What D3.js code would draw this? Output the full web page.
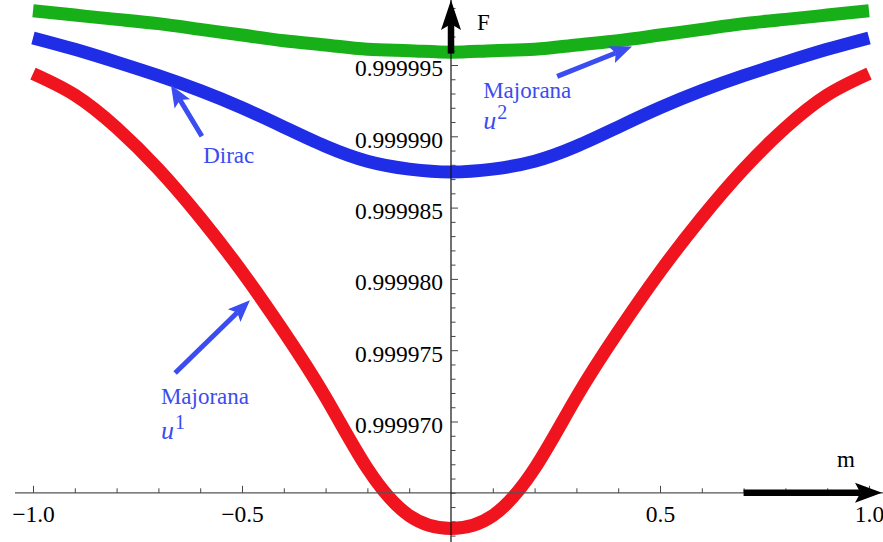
<!DOCTYPE html>
<html>
<head>
<meta charset="utf-8">
<script src="https://cdn.jsdelivr.net/npm/d3@7"></script>
<style>
  body { margin: 0; background: #fff; }
  svg { display: block; }
</style>
</head>
<body>
<div id="chart"></div>
<script>
// m values along the horizontal axis
const mValues = [-1.0, -0.9, -0.8, -0.7, -0.6, -0.5, -0.4, -0.3, -0.2, -0.1, 0.0,
                 0.1, 0.2, 0.3, 0.4, 0.5, 0.6, 0.7, 0.8, 0.9, 1.0];

// fidelity F
const majoranaU1 = [0.9999944, 0.9999929, 0.9999906, 0.9999877, 0.9999843, 0.9999805, 0.9999763, 0.9999717, 0.9999667, 0.9999634, 0.9999625,
                    0.9999634, 0.9999667, 0.9999717, 0.9999763, 0.9999805, 0.9999843, 0.9999877, 0.9999906, 0.9999929, 0.9999944];
const dirac      = [0.9999969, 0.9999961, 0.9999952, 0.99999425, 0.9999932, 0.9999920, 0.99999065, 0.9999893, 0.99998825, 0.9999877, 0.9999875,
                    0.9999877, 0.99998825, 0.9999893, 0.99999065, 0.9999920, 0.9999932, 0.99999425, 0.9999952, 0.9999961, 0.9999969];
const majoranaU2 = [0.9999988, 0.9999985, 0.9999982, 0.9999979, 0.9999975, 0.9999971, 0.9999967, 0.9999964, 0.9999961, 0.9999960, 0.9999959,
                    0.9999960, 0.9999961, 0.9999964, 0.9999967, 0.9999971, 0.9999975, 0.9999979, 0.9999982, 0.9999985, 0.9999988];

const xTickValues = [-1.0, -0.5, 0.5, 1.0];
const xTickLabels = ["\u22121.0", "\u22120.5", "0.5", "1.0"];
const xMinorTicks = [-0.9, -0.8, -0.7, -0.6, -0.4, -0.3, -0.2, -0.1, 0.1, 0.2, 0.3, 0.4, 0.6, 0.7, 0.8, 0.9];
const yTickValues = [0.999970, 0.999975, 0.999980, 0.999985, 0.999990, 0.999995];
const yTickLabels = ["0.999970", "0.999975", "0.999980", "0.999985", "0.999990", "0.999995"];

const width = 883, height = 542;
const axisM = 0, axisF = 0.999965;   // where the axes cross
const serif = '"Liberation Serif"';

let x = d3.scaleLinear().domain([-1, 1]).range([33, 869]);
let y = d3.scaleLinear().domain([0.999970, 0.999995]).range([421.5, 65]);

let svg = d3.select('#chart')
            .append('svg')
            .attr('width', width)
            .attr('height', height);

//curves
let series = [
    {name: 'u1', values: majoranaU1, color: '#f0141e'},
    {name: 'dirac', values: dirac, color: '#1f2ee6'},
    {name: 'u2', values: majoranaU2, color: '#18b018'}
];

let line = d3.line()
             .x((d) => x(d[0]))
             .y((d) => y(d[1]))
             .curve(d3.curveNatural);

svg.selectAll('path.curve')
   .data(series)
   .enter()
   .append('path')
   .attr('class', 'curve')
   .attr('fill', 'none')
   .attr('stroke', (d) => d.color)
   .attr('stroke-width', 13)
   .attr('d', (d) => line(mValues.map((m, i) => [m, d.values[i]])));

//axis lines
svg.append('line')
   .attr('x1', 15).attr('x2', width)
   .attr('y1', y(axisF)).attr('y2', y(axisF))
   .attr('stroke', '#555').attr('stroke-width', 1.2);
svg.append('line')
   .attr('x1', x(axisM)).attr('x2', x(axisM))
   .attr('y1', 0).attr('y2', height)
   .attr('stroke', '#111').attr('stroke-width', 1.2);

//x axis ticks
let xAxis = d3.axisBottom(x)
              .tickValues(xTickValues)
              .tickFormat((d, i) => xTickLabels[i])
              .tickSizeInner(-7)
              .tickSizeOuter(0)
              .tickPadding(13);
let gx = svg.append('g')
            .attr('transform', 'translate(0,' + y(axisF) + ')')
            .call(xAxis);
gx.select('.domain').remove();
gx.selectAll('line').attr('stroke', '#444');
gx.selectAll('text').attr('font-size', '23.5px').attr('fill', '#000');

let gxm = svg.append('g')
             .attr('transform', 'translate(0,' + y(axisF) + ')')
             .call(d3.axisBottom(x).tickValues(xMinorTicks).tickFormat('').tickSizeInner(-4.5).tickSizeOuter(0));
gxm.select('.domain').remove();
gxm.selectAll('line').attr('stroke', '#444');

//y axis ticks
let yAxis = d3.axisLeft(y)
              .tickValues(yTickValues)
              .tickFormat((d, i) => yTickLabels[i])
              .tickSizeInner(-7)
              .tickSizeOuter(0)
              .tickPadding(8);
let gy = svg.append('g')
            .attr('transform', 'translate(' + x(axisM) + ',0)')
            .call(yAxis);
gy.select('.domain').remove();
gy.selectAll('line').attr('stroke', '#444');
gy.selectAll('text').attr('font-size', '23.5px').attr('fill', '#000').attr('dy', '0.46em');

let yMinor = d3.range(62, 100).map((k) => 0.9999 + k * 1e-6)
               .filter((v) => !yTickValues.some((t) => Math.abs(t - v) < 1e-9));
let gym = svg.append('g')
             .attr('transform', 'translate(' + x(axisM) + ',0)')
             .call(d3.axisLeft(y).tickValues(yMinor).tickFormat('').tickSizeInner(-4.5).tickSizeOuter(0));
gym.select('.domain').remove();
gym.selectAll('line').attr('stroke', '#444');

//thick axis arrows
function arrow(g, x1, y1, x2, y2, w, len, half, color) {
    let dx = x2 - x1, dy = y2 - y1, L = Math.sqrt(dx * dx + dy * dy);
    let ux = dx / L, uy = dy / L, px = -uy, py = ux;
    let bx = x2 - ux * len, by = y2 - uy * len;
    let nx = x2 - ux * len * 0.8, ny = y2 - uy * len * 0.8;
    g.append('line')
     .attr('x1', x1).attr('y1', y1).attr('x2', nx).attr('y2', ny)
     .attr('stroke', color).attr('stroke-width', w);
    g.append('polygon')
     .attr('points', [[x2, y2], [bx + px * half, by + py * half], [nx, ny], [bx - px * half, by - py * half]].join(' '))
     .attr('fill', color);
}

let axisArrows = svg.append('g');
arrow(axisArrows, x(axisM), y(0.9999958), x(axisM), 0, 6.5, 30, 10, '#000');
arrow(axisArrows, x(0.7), y(axisF), width - 1, y(axisF), 6.5, 27, 10, '#000');

svg.append('text').attr('x', 477).attr('y', 30).attr('font-size', '23px').text('F');
svg.append('text').attr('x', 837).attr('y', 467).attr('font-size', '23px').text('m');

//annotations
const annoColor = '#3b4cf0';
let notes = svg.append('g');
arrow(notes, x(-0.596), y(0.9999900), x(-0.670), y(0.9999936), 5, 22, 9, annoColor);
arrow(notes, x(-0.660), y(0.9999734), x(-0.481), y(0.9999785), 5, 22, 9, annoColor);
arrow(notes, x(0.254), y(0.9999942), x(0.433), y(0.9999963), 5, 22, 9, annoColor);

notes.append('text').attr('x', x(-0.593)).attr('y', y(0.9999881))
     .attr('font-size', '23px').attr('fill', annoColor).text('Dirac');

function majorana(mx, fTop, fU, sup) {
    notes.append('text').attr('x', x(mx)).attr('y', y(fTop))
         .attr('font-size', '23px').attr('fill', annoColor).text('Majorana');
    let t = notes.append('text').attr('x', x(mx)).attr('y', y(fU)).attr('fill', annoColor);
    t.append('tspan').attr('font-size', '26px').attr('font-style', 'italic').text('u');
    t.append('tspan').attr('font-size', '20px').attr('dx', 1).attr('dy', -10).text(sup);
}
majorana(-0.694, 0.9999712, 0.9999688, '1');
majorana(0.077, 0.9999927, 0.9999905, '2');

// one serif face for every label
svg.selectAll('text').style('font-family', serif);
</script>
</body>
</html>
